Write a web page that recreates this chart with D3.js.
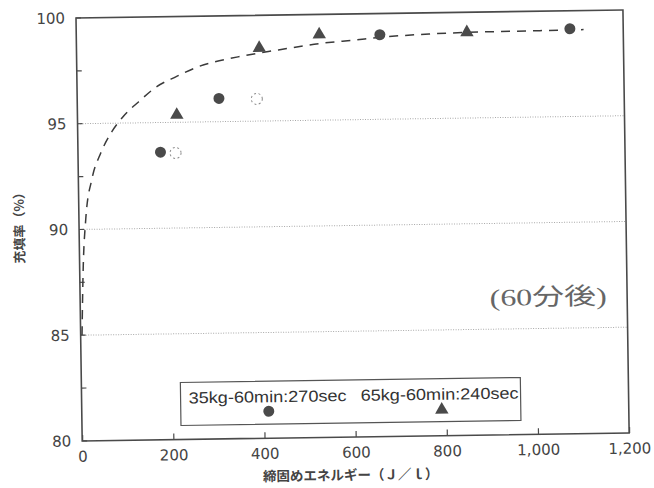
<!DOCTYPE html>
<html>
<head>
<meta charset="utf-8">
<script src="https://cdn.jsdelivr.net/npm/d3@7"></script>
<style>
  body { margin: 0; background: #fff; }
  svg { display: block; }
</style>
</head>
<body>
<div id="chart"></div>
<script>
// values
var xTicks = [0, 200, 400, 600, 800, 1000, 1200];
var yTicks = [80, 85, 90, 95, 100];
var yMinor = [82.5, 87.5, 92.5, 97.5];
var gridValues = [85, 90, 95];

// 35kg-60min:270sec (filled circles)
var circleX = [181, 311, 666, 1083];
var circleY = [93.6, 96.1, 99.0, 99.15];
// 65kg-60min:240sec (triangles)
var triX = [218, 401, 533, 857];
var triY = [95.35, 98.45, 99.05, 99.05];
// open dashed circles
var openX = [214, 394];
var openY = [93.55, 96.05];

// dashed fitted curve, traced point by point
var fitX = [3, 8, 15, 30, 50, 75, 100, 135, 175, 217, 265, 354, 443, 532, 613, 670, 774, 895, 1017, 1113];
var fitY = [85.0, 88.3, 90.5, 92.4, 93.6, 94.6, 95.3, 96.0, 96.7, 97.15, 97.6, 98.05, 98.35, 98.62, 98.77, 98.88, 99.0, 99.06, 99.08, 99.1];

var legendLabels = ["35kg-60min:270sec", "65kg-60min:240sec"];
var yTitle = "充填率（%）";
var xTitle = "締固めエネルギー（Ｊ／ｌ）";
var note = "(60分後)";

//Width and height
var W = 654, H = 488;
var w = 547, h = 423;

var svg = d3.select("#chart")
    .append("svg")
    .attr("width", W)
    .attr("height", H);

// the scan is slightly tilted
var g = svg.append("g")
    .attr("transform", "translate(76,18) rotate(-0.84)");

var x = d3.scaleLinear().domain([0, 1200]).range([0, w]);
var y = d3.scaleLinear().domain([80, 100]).range([h, 0]);

var ink = "#4a4a4a";

//dotted grid
g.selectAll("line.grid")
    .data(gridValues)
    .enter()
    .append("line")
    .attr("class", "grid")
    .attr("x1", 0)
    .attr("x2", w)
    .attr("y1", function (d) { return y(d); })
    .attr("y2", function (d) { return y(d); })
    .style("stroke", "#a8a8a8")
    .style("stroke-width", 1)
    .style("stroke-dasharray", "1,1.5");

//x axis
var xAxis = g.append("g")
    .attr("transform", "translate(0," + h + ")")
    .call(d3.axisBottom(x).tickValues(xTicks).tickSize(-6).tickPadding(10)
        .tickFormat(d3.format(",")));
xAxis.select(".domain").remove();
xAxis.selectAll("line").style("stroke", ink).style("stroke-width", 1.2);
xAxis.selectAll("text")
    .style("font-family", "'DejaVu Sans', sans-serif")
    .style("font-size", "15px")
    .style("fill", "#444");

//y axis
var yAxis = g.append("g")
    .call(d3.axisLeft(y).tickValues(yTicks).tickSize(0).tickPadding(11));
yAxis.select(".domain").remove();
yAxis.selectAll("text")
    .style("font-family", "'DejaVu Sans', sans-serif")
    .style("font-size", "15px")
    .style("fill", "#444");

g.selectAll("line.minor")
    .data(yTicks.concat(yMinor))
    .enter()
    .append("line")
    .attr("class", "minor")
    .attr("x1", 0)
    .attr("x2", 5)
    .attr("y1", function (d) { return y(d); })
    .attr("y2", function (d) { return y(d); })
    .style("stroke", ink)
    .style("stroke-width", 1.2);

//frame
g.append("rect")
    .attr("x", 0)
    .attr("y", 0)
    .attr("width", w)
    .attr("height", h)
    .style("fill", "none")
    .style("stroke", ink)
    .style("stroke-width", 1.6);

//fitted curve
var line = d3.line()
    .x(function (d, i) { return x(fitX[i]); })
    .y(function (d, i) { return y(fitY[i]); })
    .curve(d3.curveMonotoneX);

g.append("path")
    .datum(fitX)
    .attr("d", line)
    .style("fill", "none")
    .style("stroke", "#3a3a3a")
    .style("stroke-width", 1.5)
    .style("stroke-dasharray", "9,7");

//open circles
g.selectAll("circle.open")
    .data(openX)
    .enter()
    .append("circle")
    .attr("class", "open")
    .attr("cx", function (d) { return x(d); })
    .attr("cy", function (d, i) { return y(openY[i]); })
    .attr("r", 5.5)
    .style("fill", "none")
    .style("stroke", "#8a8a8a")
    .style("stroke-width", 1)
    .style("stroke-dasharray", "2,2.5");

//filled circles
g.selectAll("circle.dot")
    .data(circleX)
    .enter()
    .append("circle")
    .attr("class", "dot")
    .attr("cx", function (d) { return x(d); })
    .attr("cy", function (d, i) { return y(circleY[i]); })
    .attr("r", 5.5)
    .style("fill", ink);

//triangles
var tri = d3.symbol().type(d3.symbolTriangle).size(78);
g.selectAll("path.tri")
    .data(triX)
    .enter()
    .append("path")
    .attr("class", "tri")
    .attr("d", tri)
    .attr("transform", function (d, i) {
        return "translate(" + x(d) + "," + y(triY[i]) + ")";
    })
    .style("fill", ink);

//legend
var legend = g.append("g").attr("transform", "translate(99,366)");
legend.append("rect")
    .attr("width", 340)
    .attr("height", 43)
    .style("fill", "#fff")
    .style("stroke", "#555")
    .style("stroke-width", 1.2);

var entries = legend.selectAll("g.entry")
    .data(legendLabels)
    .enter()
    .append("g")
    .attr("class", "entry")
    .attr("transform", function (d, i) { return "translate(" + (8 + i * 172) + ",0)"; });

entries.append("text")
    .attr("x", 0)
    .attr("y", 21)
    .attr("textLength", 158)
    .attr("lengthAdjust", "spacingAndGlyphs")
    .text(function (d) { return d; })
    .style("font-family", "'Liberation Sans', Arial, sans-serif")
    .style("font-size", "16px")
    .style("fill", "#333");

entries.each(function (d, i) {
    var e = d3.select(this);
    if (i == 0) {
        e.append("circle").attr("cx", 80).attr("cy", 30).attr("r", 5.5).style("fill", ink);
    } else {
        e.append("path").attr("d", tri)
            .attr("transform", "translate(81,31)")
            .style("fill", ink);
    }
});

//note
g.append("text")
    .attr("x", 468)
    .attr("y", 294)
    .attr("text-anchor", "middle")
    .attr("textLength", 117)
    .attr("lengthAdjust", "spacingAndGlyphs")
    .text(note)
    .style("font-family", "'Liberation Serif', 'Noto Sans CJK JP', serif")
    .style("font-size", "24px")
    .style("fill", "#666");

//axis titles
g.append("text")
    .attr("transform", "translate(-55,206) rotate(-90)")
    .attr("text-anchor", "middle")
    .text(yTitle)
    .style("font-family", "'Noto Sans CJK JP', sans-serif")
    .style("font-size", "13px")
    .style("font-weight", "bold")
    .style("fill", "#444");

g.append("text")
    .attr("x", 268)
    .attr("y", 466)
    .attr("text-anchor", "middle")
    .text(xTitle)
    .style("font-family", "'Noto Sans CJK JP', sans-serif")
    .style("font-size", "13.5px")
    .style("font-weight", "bold")
    .style("fill", "#444");
</script>
</body>
</html>
